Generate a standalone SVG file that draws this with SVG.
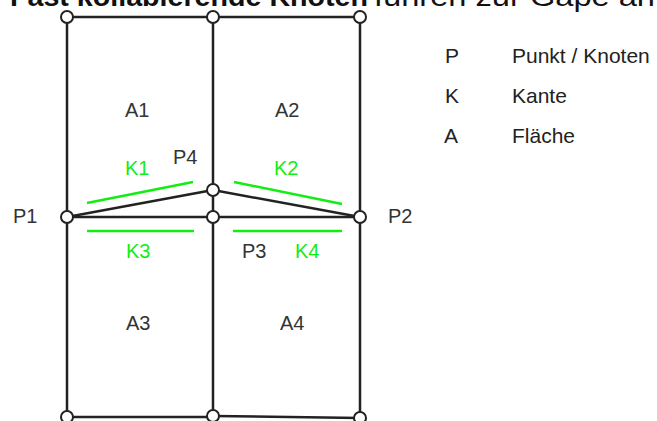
<svg xmlns="http://www.w3.org/2000/svg" width="657" height="421" viewBox="0 0 657 421">
<style>
  .ln{stroke:#222;stroke-width:2.5;fill:none;stroke-linecap:round}
  .k{stroke:#11ee11;stroke-width:2.5;fill:none}
  .nd{fill:#fff;stroke:#222;stroke-width:2}
  .lb{font-family:"Liberation Sans",Arial,sans-serif;font-size:20px;fill:#333}
  .gk{fill:#11ee11}
  .lg{font-family:"Liberation Sans",Arial,sans-serif;font-size:21px;fill:#222}
  .tt{font-family:"Liberation Sans",Arial,sans-serif;font-size:28px;fill:#111}
</style>
<rect width="657" height="421" fill="#fff"/>
<text class="tt" y="6"><tspan x="10" font-weight="bold" textLength="358" lengthAdjust="spacingAndGlyphs">Fast kollabierende Knoten</tspan><tspan x="374" textLength="281" lengthAdjust="spacingAndGlyphs">führen zur Gape an</tspan></text>
<g id="connectors">
  <line class="ln" x1="67" y1="17" x2="360" y2="17"/>
  <line class="ln" x1="67" y1="17" x2="67" y2="417"/>
  <line class="ln" x1="213" y1="17" x2="213" y2="417"/>
  <line class="ln" x1="360" y1="17" x2="360" y2="417"/>
  <line class="ln" x1="67" y1="217" x2="360" y2="217"/>
  <line class="ln" x1="67" y1="217" x2="213" y2="190"/>
  <line class="ln" x1="213" y1="190" x2="360" y2="217"/>
  <line class="ln" x1="67" y1="417" x2="213" y2="417"/>
  <line class="ln" x1="213" y1="416" x2="360" y2="418"/>
</g>
<g id="edges">
  <g id="K1"><line class="k" x1="87" y1="203" x2="193" y2="182"/><text class="lb gk" x="125" y="175">K1</text></g>
  <g id="K2"><line class="k" x1="234" y1="182" x2="342" y2="204"/><text class="lb gk" x="274" y="175">K2</text></g>
  <g id="K3"><line class="k" x1="87" y1="231" x2="194" y2="231"/><text class="lb gk" x="126" y="258">K3</text></g>
  <g id="K4"><line class="k" x1="233" y1="231" x2="342" y2="231"/><text class="lb gk" x="295" y="258">K4</text></g>
</g>
<g id="faces">
  <text id="A1" class="lb" x="125" y="117">A1</text>
  <text id="A2" class="lb" x="275" y="117">A2</text>
  <text id="A3" class="lb" x="126" y="330">A3</text>
  <text id="A4" class="lb" x="280" y="330">A4</text>
</g>
<g id="nodes">
  <g id="N-tl"><circle class="nd" cx="67" cy="17" r="6"/></g>
  <g id="N-tm"><circle class="nd" cx="213" cy="17" r="6"/></g>
  <g id="N-tr"><circle class="nd" cx="360" cy="17" r="6"/></g>
  <g id="P4"><circle class="nd" cx="213" cy="190" r="6"/><text class="lb" x="173" y="164">P4</text></g>
  <g id="P1"><circle class="nd" cx="67" cy="217" r="6"/><text class="lb" x="13" y="223">P1</text></g>
  <g id="P3"><circle class="nd" cx="213" cy="217" r="6"/><text class="lb" x="242" y="258">P3</text></g>
  <g id="P2"><circle class="nd" cx="360" cy="217" r="6"/><text class="lb" x="388" y="223">P2</text></g>
  <g id="N-bl"><circle class="nd" cx="67" cy="417" r="6"/></g>
  <g id="N-bm"><circle class="nd" cx="213" cy="416" r="6"/></g>
  <g id="N-br"><circle class="nd" cx="360" cy="418" r="6"/></g>
</g>
<g id="legend">
  <text class="lg" x="445" y="63">P</text><text class="lg" x="512" y="63">Punkt / Knoten</text>
  <text class="lg gk" x="445" y="103">K</text><text class="lg gk" x="512" y="103">Kante</text>
  <text class="lg" x="444" y="143">A</text><text class="lg" x="512" y="143">Fläche</text>
</g>
</svg>
